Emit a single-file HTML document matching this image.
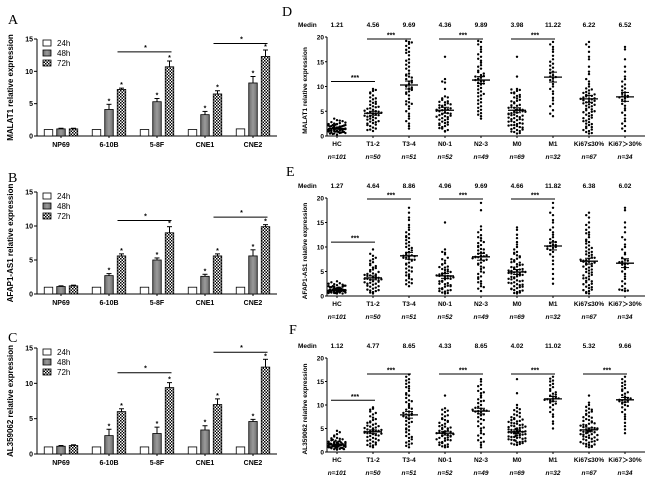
<!DOCTYPE html>
<html><head><meta charset="utf-8"><style>
body{margin:0;background:#fff}
svg{display:block;font-family:"Liberation Sans",Arial,sans-serif}
</style></head><body>
<svg id="fig" width="650" height="479" viewBox="0 0 650 479">
<defs>
<pattern id="chk" width="3" height="3" patternUnits="userSpaceOnUse"><rect width="3" height="3" fill="#fff"/><rect width="1.5" height="1.5" fill="#000"/><rect x="1.5" y="1.5" width="1.5" height="1.5" fill="#000"/></pattern>
<linearGradient id="gry" x1="0" x2="1"><stop offset="0" stop-color="#6e6e6e"/><stop offset="0.5" stop-color="#9a9a9a"/><stop offset="1" stop-color="#6e6e6e"/></linearGradient>
</defs>
</svg>
<script>
// ---------- bar chart data (A, B, C) ----------
const cellLines = ["NP69","6-10B","5-8F","CNE1","CNE2"];
const timeLabels = ["24h","48h","72h"];
const barYTicks = [0,5,10,15];
const malat1_24 = [1.0,1.0,1.0,1.0,1.1];
const malat1_48 = [1.1,4.1,5.3,3.3,8.2];
const malat1_72 = [1.1,7.2,10.7,6.5,12.3];
const malat1_err48 = [0.1,0.8,0.5,0.5,1.0];
const malat1_err72 = [0.1,0.2,0.9,0.5,1.0];
const afap_24 = [1.0,1.0,1.0,1.0,1.0];
const afap_48 = [1.1,2.7,5.0,2.6,5.6];
const afap_72 = [1.2,5.6,9.0,5.6,9.9];
const afap_err48 = [0.1,0.3,0.3,0.3,0.9];
const afap_err72 = [0.1,0.3,0.9,0.3,0.3];
const al_24 = [1.0,1.0,1.0,1.0,1.0];
const al_48 = [1.1,2.6,2.9,3.4,4.6];
const al_72 = [1.2,6.0,9.4,7.0,12.3];
const al_err48 = [0.1,0.9,0.9,0.6,0.3];
const al_err72 = [0.1,0.4,0.7,0.8,1.1];
const malat1_sig = [13.0,14.3];
const afap_sig = [10.8,11.3];
const al_sig = [11.5,14.4];

// ---------- scatter data (D, E, F) ----------
const groups = ["HC","T1-2","T3-4","N0-1","N2-3","M0","M1","Ki67≤30%","Ki67＞30%"];
const groupN = ["n=101","n=50","n=51","n=52","n=49","n=69","n=32","n=67","n=34"];
const scatYTicks = [0,5,10,15,20];
const medD = ["1.21","4.56","9.69","4.36","9.89","3.98","11.22","6.22","6.52"];
const medE = ["1.27","4.64","8.86","4.96","9.69","4.66","11.82","6.38","6.02"];
const medF = ["1.12","4.77","8.65","4.33","8.65","4.02","11.02","5.32","9.66"];
const meanD = [1.5,4.6,10.3,5.2,11.3,5.2,11.9,7.5,7.9];
const semD = [0.15,0.4,0.8,0.6,0.7,0.5,1.0,0.7,0.9];
const meanE = [1.2,3.7,8.2,4.1,8.0,4.9,10.2,7.1,6.7];
const semE = [0.1,0.4,0.7,0.5,0.7,0.5,0.8,0.6,0.9];
const meanF = [1.5,4.3,7.9,4.0,8.7,4.3,11.3,4.7,11.1];
const semF = [0.15,0.4,0.7,0.4,0.6,0.4,0.5,0.4,0.5];
const sigD = [11,19.6,19.6,19.6];
const sigE = [11,19.8,19.8,19.8];
const sigF = [11,16.6,16.6,16.6,16.6];
const sigPairsD = [[0,1],[1,2],[3,4],[5,6]];
const sigPairsF = [[0,1],[1,2],[3,4],[5,6],[7,8]];
const ptsD = [
 [0.3,0.5,0.6,0.7,0.8,0.9,1.0,1.0,1.1,1.2,1.2,1.3,1.4,1.5,1.5,1.6,1.7,1.8,1.9,2.0,2.0,2.1,2.2,2.3,2.4,2.5,2.6,2.8,3.0,3.2,3.5,0.6,0.9,1.3,1.7,1.1,1.4,0.8,2.2,1.9,0.4,0.7,1.0,1.3,1.6,1.9,2.1,2.4,0.5,0.8,1.1,1.4,1.7,2.0,2.7,3.1,1.2,1.5,0.9,1.8],
 [1,1.3,1.7,2,2.3,2.6,2.9,3.2,3.5,3.8,4,4.3,4.5,4.8,5,5.3,5.6,6,6.3,6.7,7,7.4,7.8,8.2,8.6,9.1,9.5,3.6,4.6,5.8,1.5,2.8,3.9,4.9,5.5,6.5,2.2,3.3,4.2,5.1,6.9,7.6,1.2,2.5,3.0,4.1,4.7,5.9,8.8,9.3],
 [1.5,2.5,3.5,4.5,5.5,6,6.8,7.5,8.2,9,9.5,10,10.5,11,11.5,12,12.6,13.2,14,14.8,15.5,16.3,17,17.8,18.6,19,10.2,8.8,12.2,6.4,3,5,7,9.3,10.8,12.4,14.4,16.8,18.2,19.2,2,4,6.5,8.5,11.2,13.6,15.2,17.4,18.9,9.8,11.8],
 [1,1.5,2,2.6,3.2,3.6,4,4.4,4.8,5.2,5.5,5.9,6.3,6.8,7.3,8,9.5,10.8,11.5,16,1.2,1.8,2.3,2.9,3.4,3.8,4.2,4.6,5,5.4,5.7,6.1,6.6,7,7.6,0.9,1.6,2.2,2.8,3.3,4.1,4.5,5.1,5.6,6.2,6.9,7.8,11,2.5,3.9,5.3,6.4],
 [3.5,4,4.6,5.3,6,6.8,7.5,8.2,9,9.7,10.4,11,11.4,11.8,12.3,12.9,13.6,14.3,15.2,16,17,18,19,11.1,4.3,5,5.7,6.5,7.2,8,8.7,9.4,10.1,10.8,11.6,12.1,12.6,13.2,14,14.8,15.6,16.5,17.5,18.5,19.2,11.3,10.6,12,8.5],
 [0.5,0.8,1.2,1.6,2,2.4,2.8,3.2,3.6,4,4.3,4.7,5,5.3,5.7,6.1,6.6,7.1,7.6,8.1,8.6,9.1,9.5,12,16,5.1,3.4,2.2,0.6,1,1.4,1.8,2.2,2.6,3,3.4,3.8,4.2,4.6,5,5.4,5.8,6.3,6.8,7.3,7.8,8.3,8.8,9.3,0.9,1.3,1.7,2.1,2.5,2.9,3.3,3.7,4.1,4.5,4.9,5.3,5.7,6.2,7,7.9,8.7,9.4,5.2,4.4],
 [4,5.2,6.5,7.7,9,10,11,11.6,12.3,13,13.8,14.6,15.5,17,18,19,4.5,6,7.2,8.5,9.5,10.5,11.3,12,12.7,13.4,14.2,15,16.2,17.5,18.5,11.9],
 [0.5,1,1.6,2.2,2.8,3.4,4,4.6,5.2,5.8,6.4,7,7.5,8,8.6,9.2,10,11,12.5,14,15.5,17,18,19,7.4,6.8,0.8,1.3,1.9,2.5,3.1,3.7,4.3,4.9,5.5,6.1,6.7,7.2,7.8,8.3,8.9,9.6,10.5,0.6,1.2,1.8,2.4,3,3.6,4.2,4.8,5.4,6,6.6,7.1,7.6,8.1,8.7,9.4,11.5,13,16,18.5,7.5,6.3,5,8.4],
 [1,2,3,4.2,5.2,6.1,7,7.6,8.2,8.8,9.6,10.4,11.5,13,15.5,18,8,1.5,2.5,3.5,4.7,5.6,6.5,7.3,7.9,8.5,9.2,10,11,12,14,17.5,8.1,7.8]
];
const ptsE = [
 [0.5,0.6,0.7,0.8,0.9,1.0,1.0,1.1,1.1,1.2,1.2,1.3,1.3,1.4,1.5,1.6,1.7,1.8,1.9,2.0,2.1,2.2,2.4,2.6,2.8,3.0,0.9,1.2,1.5,0.8,1.1,1.4,1.0,1.3,0.7,0.5,0.8,1.1,1.4,1.7,2.0,2.3,0.6,0.9,1.2,1.5,1.8,2.1,2.5,0.7,1.0,1.3,1.6,1.9,0.6,1.0,1.4,0.8,1.2,1.1],
 [0.5,0.8,1.1,1.5,1.9,2.3,2.7,3,3.3,3.6,3.9,4.2,4.6,5,5.4,5.8,6.3,6.9,7.5,8.2,9.5,3.5,2.5,4.4,0.7,1,1.3,1.7,2.1,2.5,2.9,3.2,3.5,3.8,4.1,4.5,4.9,5.3,5.7,6.1,6.6,7.2,7.8,8.6,1.2,2,2.8,3.7,4.3,3.4],
 [2,2.8,3.6,4.4,5.2,6,6.8,7.5,8,8.5,9,9.6,10.3,11,11.8,12.6,13.5,14.5,15.5,17,18,7.8,2.4,3.2,4,4.8,5.6,6.4,7.2,7.8,8.3,8.8,9.3,10,10.7,11.4,12.2,13,14,16,2.6,3.4,4.2,5,5.8,6.6,7.4,8.2,9.8,12,8.1],
 [0.5,0.9,1.4,1.9,2.4,2.9,3.4,3.9,4.3,4.8,5.3,5.8,6.4,7.2,8.5,9.5,15,4.1,0.7,1.1,1.6,2.1,2.6,3.1,3.6,4.1,4.6,5,5.5,6,6.7,7.5,8.8,0.6,1,1.5,2,2.5,3,3.5,4,4.4,4.9,5.4,5.9,6.5,7.8,9,4.2,3.8,2.2,1.2],
 [1,2,3,4,5,6,6.8,7.5,8.2,8.9,9.6,10.4,11.3,12.4,13.5,14.2,17.5,19,7.9,1.5,2.5,3.5,4.5,5.5,6.4,7.2,7.9,8.6,9.3,10,10.8,11.8,13,1.8,2.8,3.8,4.8,5.8,6.6,7.4,8.1,8.8,9.5,10.2,11,12,8,7.7,8.3],
 [0.5,0.8,1.2,1.6,2,2.4,2.8,3.2,3.6,4,4.4,4.8,5.2,5.6,6,6.5,7,7.6,8.3,9,10,11,12.5,14,4.7,0.6,1,1.4,1.8,2.2,2.6,3,3.4,3.8,4.2,4.6,5,5.4,5.8,6.3,6.8,7.3,7.9,8.6,9.5,0.7,1.1,1.5,1.9,2.3,2.7,3.1,3.5,3.9,4.3,4.7,5.1,5.5,5.9,6.4,6.9,7.5,8.1,8.8,10.5,11.8,13.5,4.9,5.2],
 [2.5,4.5,6.5,8,9,9.8,10.5,11.2,12,13,14,15,16.5,18,19,3.5,5.5,7.2,8.5,9.4,10.2,10.8,11.6,12.5,13.5,15.5,17,10,10.4,9.6,11,10.1],
 [0.5,1,1.6,2.2,2.8,3.4,4,4.6,5.2,5.8,6.4,7,7.6,8.2,8.8,9.5,10.3,11,12,13,14,15,16,17,0.8,1.3,1.9,2.5,3.1,3.7,4.3,4.9,5.5,6.1,6.7,7.3,7.9,8.5,9.1,9.9,10.7,11.5,12.5,13.5,0.6,1.2,1.8,2.4,3,3.6,4.2,4.8,5.4,6,6.6,7.2,7.8,8.4,9,9.8,11.2,12.8,14.5,16.5,7,6.8,7.4],
 [1,1.2,1.5,2.5,3.5,4.5,5.5,6.5,7.4,8.5,10,11.5,13,15,18,1.1,1.3,2,3,4,5,6,7,7.8,8.8,9.5,10.5,12,14,17.5,6.6,6.9,6.4,7.2]
];
const ptsF = [
 [0.5,0.6,0.7,0.8,0.9,1.0,1.1,1.1,1.2,1.3,1.4,1.5,1.6,1.7,1.8,1.9,2.0,2.1,2.3,2.5,2.7,3.0,3.3,3.8,4.5,1.2,1.5,0.9,1.7,1.3,1.0,2.2,0.6,0.9,1.2,1.5,1.8,2.1,2.4,2.8,0.7,1.0,1.3,1.6,1.9,2.2,2.6,3.5,0.8,1.1,1.4,1.7,2.0,1.2,1.6,0.9,1.4,2.9,4.2,1.5],
 [1,1.4,1.8,2.2,2.6,3,3.4,3.8,4.2,4.6,5,5.4,5.8,6.3,6.8,7.3,8,8.6,9.2,9.5,4.4,1.2,1.6,2,2.4,2.8,3.2,3.6,4,4.4,4.8,5.2,5.6,6,6.5,7,7.6,8.3,9,1.5,2.5,3.5,4.5,5.5,6.2,4.3,4.1,3.9,4.7,5.1],
 [1,1.6,2.3,3,3.8,4.6,5.4,6.2,7,7.8,8.6,9.4,10.2,11,12,13,14,14.8,15.5,16.5,8,1.3,2,2.7,3.4,4.2,5,5.8,6.6,7.4,8.2,9,9.8,10.6,11.5,12.5,13.5,14.5,15.2,16,1.8,3.2,4.8,6.4,7.9,9.2,10.8,12.2,13.8,7.6,8.3],
 [1,1.4,1.9,2.4,2.9,3.4,3.9,4.4,4.9,5.4,6,6.8,7.6,8.5,9.3,12,4,1.2,1.6,2.1,2.6,3.1,3.6,4.1,4.6,5.1,5.7,6.4,7.2,8,9,1.1,1.5,2,2.5,3,3.5,4,4.5,5,5.5,6.2,7,7.8,8.8,3.8,4.2,2.7,3.3,4.3,5.2,6.6],
 [1,2,3,4,5,6,7,7.8,8.5,9.2,10,10.8,11.6,12.5,13.4,14.3,15.5,8.7,1.5,2.5,3.5,4.5,5.5,6.5,7.4,8.2,8.9,9.6,10.4,11.2,12,13,14,15,2.2,3.8,5.2,6.8,8,9.4,10.9,12.7,8.6,8.8,9],
 [1.5,2,2.5,3,3.5,4,4.5,5,5.5,6,6.5,7,7.8,8.6,9.4,10,12.5,15.5,4.3,3.2,1.6,2.1,2.6,3.1,3.6,4.1,4.6,5.1,5.6,6.1,6.6,7.2,8,8.9,1.7,2.2,2.7,3.2,3.7,4.2,4.7,5.2,5.7,6.2,6.8,7.5,8.3,9.1,1.8,2.3,2.8,3.3,3.8,4.3,4.8,5.3,5.8,6.4,7.4,1.9,2.4,2.9,3.4,3.9,4.4,4.9,5.4,6.9,4.2],
 [5,6.5,8,9,10,10.8,11.3,11.8,12.4,13,13.8,14.5,15.2,16,6,7.5,8.5,9.5,10.5,11,11.5,12,12.7,13.4,14.2,15,15.6,11.2,11.4,11.1,10.3,12.2],
 [1,1.5,2,2.5,3,3.5,4,4.5,5,5.5,6,6.8,7.6,8.4,9.2,10,12,4.7,3.8,1.2,1.7,2.2,2.7,3.2,3.7,4.2,4.7,5.2,5.7,6.3,7,7.9,8.8,9.6,1.3,1.8,2.3,2.8,3.3,3.8,4.3,4.8,5.3,5.8,6.5,7.3,8.1,9,1.1,1.6,2.1,2.6,3.1,3.6,4.1,4.6,5.1,5.6,6.1,6.6,7.4,8.6,10.5,4.9,4.5,4.4,5],
 [4,5.5,7,8,9,10,10.6,11.2,11.8,12.4,13,13.6,14.3,15,16,11,4.8,6.2,7.5,8.5,9.5,10.3,10.9,11.5,12.1,12.7,13.3,14,14.7,15.5,11.1,10.8,11.4,9.8]
];

const svg = document.getElementById('fig');
const NS = 'http://www.w3.org/2000/svg';
function mk(tag, attrs, parent){const e=document.createElementNS(NS,tag);for(const k in attrs)e.setAttribute(k,attrs[k]);(parent||svg).appendChild(e);return e;}
function txt(s,attrs,parent){const e=mk('text',attrs,parent);e.textContent=s;return e;}

// panel letters
[["A",8,24],["B",8,182],["C",8,342],["D",282,16],["E",286,176],["F",289,334]].forEach(p=>{
  const t=txt(p[0],{x:p[1],y:p[2],'font-family':'Liberation Serif,serif','font-size':14});
  
  
});

function barPanel(key,title,y0,y15,s24,s48,s72,e48,e72,sig){
  const g=mk('g',{});
  
  
  const xL=37,xR=277;
  const ys=v=>y0-(v/15)*(y0-y15);
  const gx=i=>61+i*48;
  const off=[-12.5,0,12.5], bw=8.5;
  mk('line',{x1:xL,y1:y15,x2:xL,y2:y0,stroke:'#000','stroke-width':1},g);
  mk('line',{x1:xL,y1:y0,x2:xR,y2:y0,stroke:'#000','stroke-width':1},g);
  barYTicks.forEach(t=>{
    mk('line',{x1:xL-3,y1:ys(t),x2:xL,y2:ys(t),stroke:'#000'},g);
    const l=txt(t,{x:xL-4,y:ys(t)+2.5,'font-size':7,'font-weight':'bold','text-anchor':'end'},g);
    
    
  });
  const yt=txt(title,{x:0,y:0,'font-size':8,'font-weight':'bold','text-anchor':'middle',transform:`translate(13,${(y0+y15)/2}) rotate(-90)`},g);
  
  
  const series=[s24,s48,s72], errs=[null,e48,e72];
  const fills=['#fff','url(#gry)','url(#chk)'];
  cellLines.forEach((c,i)=>{
    mk('line',{x1:gx(i),y1:y0,x2:gx(i),y2:y0+2,stroke:'#000'},g);
    const l=txt(c,{x:gx(i),y:y0+11,'font-size':7,'font-weight':'bold','text-anchor':'middle'},g);
    
    
    series.forEach((s,k)=>{
      const x=gx(i)+off[k]-bw/2, top=ys(s[i]);
      if(errs[k]){
        const et=ys(s[i]+errs[k][i]);
        mk('line',{x1:gx(i)+off[k],y1:top,x2:gx(i)+off[k],y2:et,stroke:'#000'},g);
        mk('line',{x1:gx(i)+off[k]-2.5,y1:et,x2:gx(i)+off[k]+2.5,y2:et,stroke:'#000'},g);
        if(i>0){const st=txt('*',{x:gx(i)+off[k],y:et-1,'font-size':7,'font-weight':'bold','text-anchor':'middle'},g);
          
          }
      }
      const r=mk('rect',{x:x,y:top,width:bw,height:y0-top,fill:fills[k],stroke:'#000','stroke-width':0.8},g);
      
      
    });
  });
  [[1,2],[3,4]].forEach((p,j)=>{
    const y=ys(sig[j]);
    const ln=mk('line',{x1:gx(p[0])+off[2]-4,y1:y,x2:gx(p[1])+off[2]+2,y2:y,stroke:'#000','stroke-width':1},g);
    
    
    txt('*',{x:(gx(p[0])+gx(p[1]))/2+off[2],y:y-2,'font-size':7,'font-weight':'bold','text-anchor':'middle'},g);
  });
  timeLabels.forEach((t,k)=>{
    const ly=y15+4+k*10;
    const lr=mk('rect',{x:43,y:ly-3,width:8,height:6,fill:fills[k],stroke:'#000','stroke-width':0.8},g);
    
    
    const lt=txt(t,{x:57,y:ly+3,'font-size':8},g);
    
    
  });
}
barPanel('a','MALAT1 relative expression',136,39,malat1_24,malat1_48,malat1_72,malat1_err48,malat1_err72,malat1_sig);
barPanel('b','AFAP1-AS1 relative expression',294,192,afap_24,afap_48,afap_72,afap_err48,afap_err72,afap_sig);
barPanel('c','AL359062 relative expression',454,348,al_24,al_48,al_72,al_err48,al_err72,al_sig);

const swarmSlots=[0,-2.8,2.8,-5.6,5.6,-8.4,8.4,-1.4,1.4,-4.2,4.2,-7,7];
function scatPanel(key,title,y0,y20,med,means,sems,pts,sig,pairs){
  const g=mk('g',{});
  
  
  const xL=327,xR=645;
  const ys=v=>y0-(v/20)*(y0-y20);
  const gx=i=>337+i*36;
  mk('line',{x1:xL,y1:y20,x2:xL,y2:y0,stroke:'#000'},g);
  mk('line',{x1:xL,y1:y0,x2:xR,y2:y0,stroke:'#000'},g);
  scatYTicks.forEach(t=>{
    mk('line',{x1:xL-2,y1:ys(t),x2:xL,y2:ys(t),stroke:'#000'},g);
    const l=txt(t,{x:xL-3,y:ys(t)+2.5,'font-size':6.5,'font-weight':'bold','text-anchor':'end'},g);
    
    
  });
  const yt=txt(title,{x:0,y:0,'font-size':6.5,'font-weight':'bold','text-anchor':'middle',transform:`translate(307,${(y0+y20)/2+4}) rotate(-90)`},g);
  
  
  const mh=txt('Medin',{x:298,y:y20-10,'font-size':6.5,'font-weight':'bold'},g);
  
  
  groups.forEach((gname,i)=>{
    const cx=gx(i);
    mk('line',{x1:cx,y1:y0,x2:cx,y2:y0+2,stroke:'#000'},g);
    const l=txt(gname,{x:cx,y:y0+10,'font-size':6.5,'font-weight':'bold','text-anchor':'middle'},g);
    
    
    const n=txt(groupN[i],{x:cx,y:y0+23,'font-size':6.5,'font-weight':'bold','font-style':'italic','text-anchor':'middle'},g);
    
    
    const m=txt(med[i],{x:cx,y:y20-10,'font-size':6.5,'font-weight':'bold','text-anchor':'middle'},g);
    
    
    // beeswarm layout: bins of ~3.5px, spread across slots
    const bins={};
    pts[i].forEach(v=>{
      const y=ys(v), b=Math.round(y/3.5);
      const c=bins[b]||0; bins[b]=c+1;
      const d=mk('circle',{cx:cx+swarmSlots[c%swarmSlots.length],cy:y,r:1.2,fill:'#000'},g);
      
      
    });
    const my=ys(means[i]), st=ys(means[i]+sems[i]), sb=ys(means[i]-sems[i]);
    const ml=mk('line',{x1:cx-9,y1:my,x2:cx+9,y2:my,stroke:'#000','stroke-width':1.3},g);
    
    
    mk('line',{x1:cx,y1:st,x2:cx,y2:sb,stroke:'#000','stroke-width':1},g);
    mk('line',{x1:cx-4,y1:st,x2:cx+4,y2:st,stroke:'#000','stroke-width':1},g);
    mk('line',{x1:cx-4,y1:sb,x2:cx+4,y2:sb,stroke:'#000','stroke-width':1},g);
  });
  pairs.forEach((p,j)=>{
    const y=ys(sig[j]);
    const ln=mk('line',{x1:gx(p[0])-6,y1:y,x2:gx(p[1])+2,y2:y,stroke:'#000','stroke-width':1},g);
    
    
    txt('***',{x:(gx(p[0])+gx(p[1]))/2,y:y-1.5,'font-size':7,'font-weight':'bold','text-anchor':'middle'},g);
  });
}
scatPanel('d','MALAT1 relative expression',136,37,medD,meanD,semD,ptsD,sigD,sigPairsD);
scatPanel('e','AFAP1-AS1 relative expression',296,198,medE,meanE,semE,ptsE,sigE,sigPairsD);
scatPanel('f','AL359062 relative expression',452,358,medF,meanF,semF,ptsF,sigF,sigPairsF);
</script>
</body></html>
